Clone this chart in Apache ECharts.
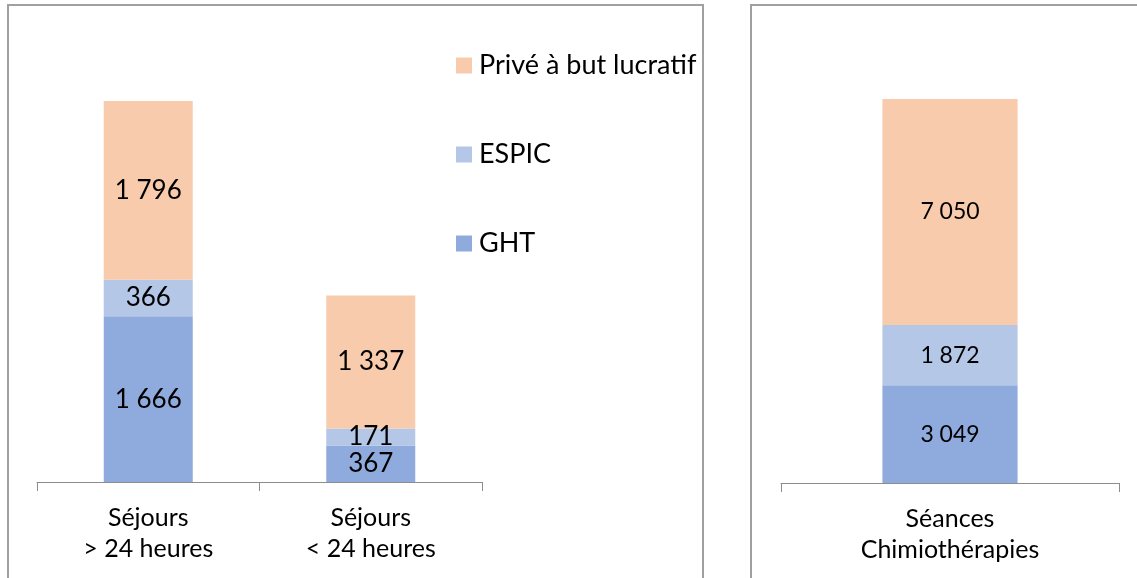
<!DOCTYPE html>
<html>
<head>
<meta charset="utf-8">
<script src="https://cdn.jsdelivr.net/npm/echarts@6/dist/echarts.min.js"></script>
<style>
  html, body { margin: 0; padding: 0; background: #fff; }
  #chart { width: 1137px; height: 578px; }
</style>
</head>
<body>
<div id="chart"></div>
<script>
// catégories
var sejourCats = ['Séjours\n> 24 heures', 'Séjours\n< 24 heures'];
var seanceCats = ['Séances\nChimiothérapies'];

// valeurs séjours
var sejourGHT = [1666, 367];
var sejourESPIC = [366, 171];
var sejourPrive = [1796, 1337];

// valeurs séances
var seanceGHT = [3049];
var seanceESPIC = [1872];
var seancePrive = [7050];

var legendNames = ['Privé à but lucratif', 'ESPIC', 'GHT'];

var colPrive = '#F8CBAD';
var colESPIC = '#B4C7E7';
var colGHT = '#8FAADC';
var font = 'Lato, "Open Sans", sans-serif';

// 1796 -> "1 796"
function fmt(p) {
    return String(p.value).replace(/\B(?=(\d{3})+(?!\d))/g, ' ');
}

function barSeries(name, data, color, axis, stack, size) {
    return {
        name: name,
        type: 'bar',
        stack: stack,
        xAxisIndex: axis,
        yAxisIndex: axis,
        barWidth: '40%',
        data: data,
        itemStyle: { color: color },
        emphasis: { disabled: true },
        label: {
            show: true,
            position: 'inside',
            color: '#000',
            fontFamily: font,
            fontSize: size,
            formatter: fmt
        }
    };
}

function catAxis(grid, cats) {
    return {
        type: 'category',
        gridIndex: grid,
        data: cats,
        axisLine: { lineStyle: { color: '#8c8c8c', width: 1 } },
        axisTick: { show: true, length: 9, lineStyle: { color: '#8c8c8c' } },
        axisLabel: {
            color: '#000',
            fontFamily: font,
            fontSize: 25,
            lineHeight: 31,
            margin: 20
        }
    };
}

var chart = echarts.init(document.getElementById('chart'));
chart.setOption({
    animation: false,
    graphic: [
        {
            type: 'rect',
            shape: { x: 8, y: 5, width: 695, height: 620 },
            style: { fill: 'none', stroke: '#a0a0a0', lineWidth: 2 },
            silent: true
        },
        {
            type: 'rect',
            shape: { x: 751, y: 5, width: 500, height: 620 },
            style: { fill: 'none', stroke: '#a0a0a0', lineWidth: 2 },
            silent: true
        }
    ],
    legend: {
        orient: 'vertical',
        left: 451,
        top: 47,
        itemWidth: 16,
        itemHeight: 16,
        itemGap: 62,
        icon: 'rect',
        data: legendNames,
        textStyle: { fontFamily: font, fontSize: 27, color: '#000', lineHeight: 25, padding: [0, 0, 0, 2] }
    },
    grid: [
        { left: 37, right: 1137 - 482, top: 84, bottom: 96 },
        { left: 781, right: 1137 - 1119, top: 98, bottom: 95 }
    ],
    xAxis: [
        catAxis(0, sejourCats),
        catAxis(1, seanceCats)
    ],
    yAxis: [
        { gridIndex: 0, type: 'value', min: 0, max: 4000, show: false },
        { gridIndex: 1, type: 'value', min: 0, max: 12000, show: false }
    ],
    series: [
        barSeries('GHT', sejourGHT, colGHT, 0, 'sejour', 26),
        barSeries('ESPIC', sejourESPIC, colESPIC, 0, 'sejour', 26),
        barSeries('Privé à but lucratif', sejourPrive, colPrive, 0, 'sejour', 26),
        barSeries('GHT', seanceGHT, colGHT, 1, 'seance', 23),
        barSeries('ESPIC', seanceESPIC, colESPIC, 1, 'seance', 23),
        barSeries('Privé à but lucratif', seancePrive, colPrive, 1, 'seance', 23)
    ]
});
</script>
</body>
</html>
